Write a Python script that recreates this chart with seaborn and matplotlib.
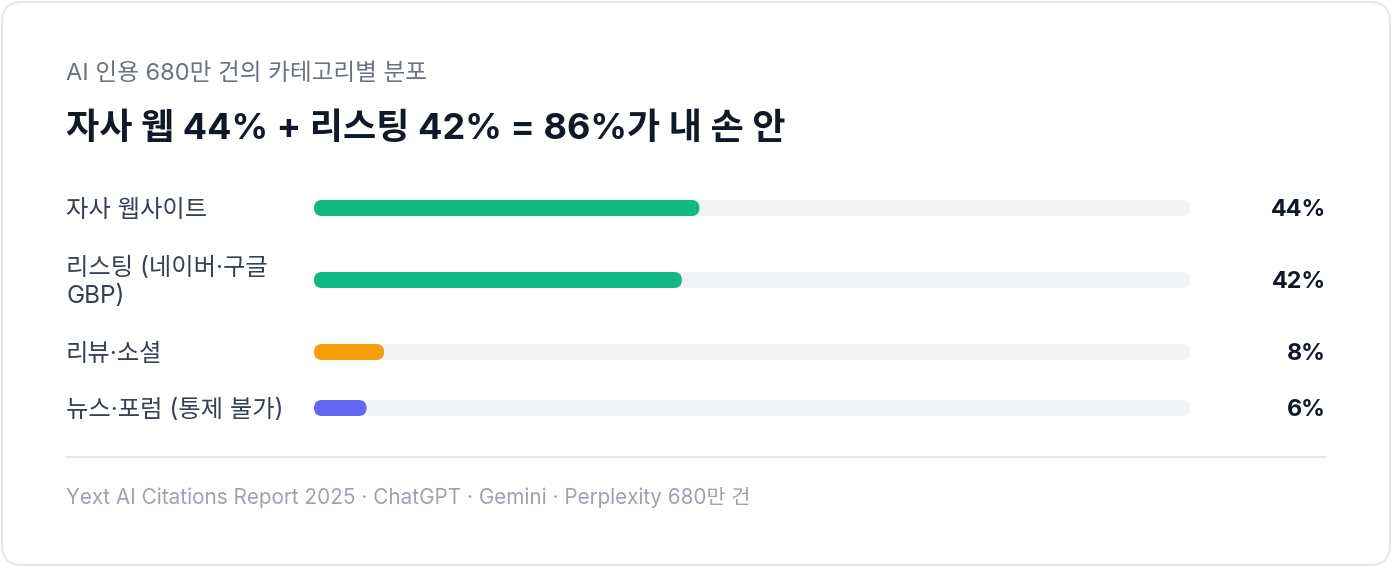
import matplotlib
matplotlib.use("Agg")
import matplotlib.pyplot as plt
from matplotlib.patches import FancyBboxPatch
import seaborn as sns
import pandas as pd

# ---- data ----
categories = ["자사 웹사이트", "리스팅 (네이버·구글\nGBP)", "리뷰·소셜", "뉴스·포럼 (통제 불가)"]
values = [44, 42, 8, 6]
value_labels = ["44%", "42%", "8%", "6%"]
bar_colors = ["#10b981", "#10b981", "#f59e0b", "#6366f1"]
track_max = 100
subtitle = "AI 인용 680만 건의 카테고리별 분포"
title = "자사 웹 44% + 리스팅 42% = 86%가 내 손 안"
footer = "Yext AI Citations Report 2025 · ChatGPT · Gemini · Perplexity 680만 건"

sns.set_theme(style="white")
plt.rcParams['font.family'] = ['Inter', 'Noto Sans CJK KR', 'DejaVu Sans']

W, H = 1392, 568
DPI = 100
fig = plt.figure(figsize=(W / DPI, H / DPI), dpi=DPI)
fig.patch.set_facecolor("white")

def fx(px):
    return px / W

def fy(py):
    return 1 - py / H

# card
card = FancyBboxPatch((fx(2), fy(565)), fx(1388), 563 / H,
                      boxstyle="round,pad=0,rounding_size=%f" % fx(20),
                      mutation_aspect=W / H,
                      transform=fig.transFigure, facecolor="white",
                      edgecolor="#e5e7eb", linewidth=1.5, zorder=-5)
fig.patches.append(card)

# texts
fig.text(fx(66), fy(74), subtitle, fontsize=17, color="#6b7280", va="center", ha="left")
fig.text(fx(66), fy(129), title, fontsize=26, color="#111827", va="center", ha="left",
         fontweight="bold")

row_centers = [208, 280, 352, 408]
bar_h = 16
x0, x1 = 314, 1190
ax_w = x1 - x0

def round_bars(ax):
    # replace rectangles with rounded ones
    xl = ax.get_xlim()
    yl = ax.get_ylim()
    px_per_x = ax_w / (xl[1] - xl[0])
    px_per_y = bar_h / abs(yl[1] - yl[0])
    aspect = px_per_x / px_per_y
    rects = list(ax.patches)
    for p in rects:
        x, y = p.get_x(), p.get_y()
        w, h = p.get_width(), p.get_height()
        fc = p.get_facecolor()
        z = p.get_zorder()
        p.remove()
        r = (bar_h / 2) / px_per_x
        fb = FancyBboxPatch((x, y), w, h,
                            boxstyle="round,pad=0,rounding_size=%f" % r,
                            mutation_aspect=aspect,
                            facecolor=fc, edgecolor="none", linewidth=0, zorder=z)
        ax.add_patch(fb)

for i, (cat, val, lab, col) in enumerate(zip(categories, values, value_labels, bar_colors)):
    yc = row_centers[i]
    ax = fig.add_axes([fx(x0), fy(yc + bar_h / 2), fx(ax_w), bar_h / H])
    df = pd.DataFrame({"cat": [cat], "track": [track_max], "val": [val]})
    sns.barplot(data=df, x="track", y="cat", color="#f3f4f6", width=1.0, ax=ax,
                saturation=1, orient="h")
    sns.barplot(data=df, x="val", y="cat", color=col, width=1.0, ax=ax,
                saturation=1, orient="h")
    ax.set_xlim(0, track_max)
    ax.set_ylim(0.5, -0.5)
    ax.axis("off")
    round_bars(ax)
    fig.text(fx(66), fy(yc + 2.5), cat, fontsize=17.5, color="#374151", va="center", ha="left",
             linespacing=1.32)
    fig.text(fx(1326), fy(yc + 2.5), lab, fontsize=16.8, color="#111827", va="center", ha="right",
             fontweight="bold")

# divider
fig.add_artist(plt.Line2D([fx(66), fx(1326)], [fy(457), fy(457)], color="#e5e7eb",
                          linewidth=1.5, transform=fig.transFigure))

fig.text(fx(66), fy(497), footer, fontsize=14.9, color="#9ca3af", va="center", ha="left")

fig.savefig("out.png", dpi=DPI, facecolor="white")
